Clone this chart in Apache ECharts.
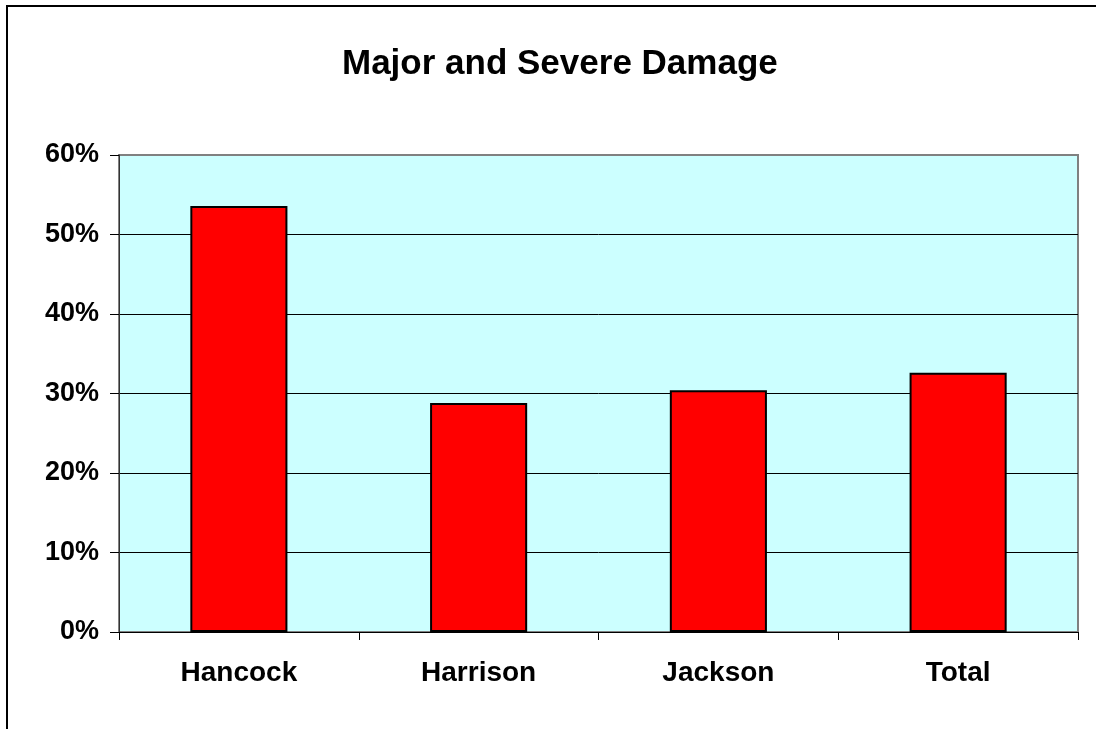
<!DOCTYPE html>
<html style="height: 100%">
<head>
<meta charset="utf-8">
<title>Major and Severe Damage</title>
<script src="https://cdn.jsdelivr.net/npm/echarts@6/dist/echarts.min.js"></script>
</head>
<body style="height: 100%; margin: 0; background: #fff">
<div id="main" style="width: 1096px; height: 729px"></div>
<script type="text/javascript">
// counties and share of homes with major / severe damage (%)
var counties = ['Hancock', 'Harrison', 'Jackson', 'Total'];
var damagePct = [53.6, 28.8, 30.4, 32.6];
var yTicks = [0, 10, 20, 30, 40, 50, 60];

var FONT = '"Liberation Sans", Arial, sans-serif';
var myChart = echarts.init(document.getElementById('main'));

var option = {
	backgroundColor: '#FFFFFF',
	animation: false,
	title: {
		text: 'Major and Severe Damage',
		left: 337,
		top: 42,
		textStyle: { fontFamily: FONT, fontSize: 35, fontWeight: 'bold', color: '#000' }
	},
	// outer chart frame (only left / top edges are inside the picture)
	graphic: [{
		type: 'rect',
		shape: { x: 7, y: 6, width: 3000, height: 3000 },
		style: { fill: 'none', stroke: '#000', lineWidth: 2 },
		silent: true
	}],
	grid: {
		left: 119, top: 155, right: 18, bottom: 97,
		show: true,
		backgroundColor: '#CCFFFF',
		borderColor: '#808080',
		borderWidth: 2
	},
	xAxis: {
		type: 'category',
		data: counties,
		axisLine: { lineStyle: { color: '#000', width: 1 } },
		axisTick: { show: true, length: 8, lineStyle: { color: '#000' } },
		axisLabel: { margin: 27, fontFamily: FONT, fontSize: 28, fontWeight: 'bold', color: '#000' }
	},
	yAxis: {
		type: 'value',
		min: yTicks[0],
		max: yTicks[yTicks.length - 1],
		interval: 10,
		axisLine: { show: true, lineStyle: { color: '#333', width: 1 } },
		axisTick: { show: true, length: 9, lineStyle: { color: '#000' } },
		axisLabel: {
			margin: 20, fontFamily: FONT, fontSize: 27, fontWeight: 'bold', color: '#000',
			formatter: '{value}%'
		},
		splitLine: {
			show: true,
			lineStyle: { color: ['#000', '#000', '#000', '#000', '#000', '#000', '#808080'], width: 1 }
		}
	},
	series: [{
		type: 'bar',
		data: damagePct,
		barWidth: '40.5%',
		itemStyle: { color: '#FF0000', borderColor: '#000', borderWidth: 2 }
	}]
};
myChart.setOption(option);
</script>
</body>
</html>
